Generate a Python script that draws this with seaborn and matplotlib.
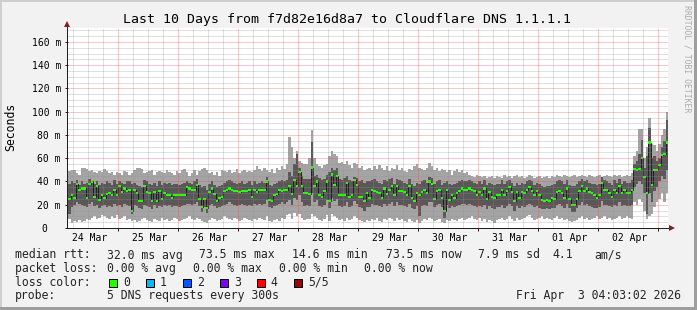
import numpy as np
import matplotlib
matplotlib.use("Agg")
import matplotlib.pyplot as plt
import seaborn as sns
from matplotlib.patches import Rectangle

# ---------------- data: hourly steps from 24 Mar 04:03 to 3 Apr 04:03 (one row = 24 h) -------------
median_rows = [
    [25, 28, 26, 38, 33, 34, 34, 26, 38, 40, 27, 36, 24, 28, 26, 29, 30, 28, 33, 28, 36, 31, 34, 32],
    [33, 14.6, 33, 30, 23, 23, 36, 31, 30, 23, 31, 23, 32, 25, 30, 28, 28, 26, 28, 28, 28, 28, 28, 35],
    [34, 33, 33, 37, 25, 18, 25, 17, 31, 34, 29, 23, 26, 27, 32, 33, 34, 33, 32, 32, 31, 32, 32, 32],
    [33, 27, 33, 31, 33, 33, 33, 40, 24, 23, 28, 29, 33, 32, 33, 33, 36, 29, 41, 36, 48, 36, 30, 30],
    [29, 52, 36, 40, 28, 27, 32, 40, 23, 46, 37, 45, 28, 28, 28, 39, 27, 28, 41, 37, 27, 27, 23, 30],
    [26, 33, 32, 31, 30, 26, 34, 29, 33, 36, 28, 36, 32, 32, 31, 28, 36, 26, 23, 30, 28, 31, 33, 30],
    [40, 38, 25, 32, 33, 26, 15, 33, 24, 28, 26, 30, 32, 34, 33, 33, 34, 33, 32, 28, 31, 28, 34, 25],
    [31, 27, 26, 28, 28, 33, 28, 32, 35, 31, 23, 31, 26, 31, 30, 33, 35, 32, 28, 32, 28, 24, 23, 24],
    [23, 26, 25, 31, 32, 30, 26, 34, 25, 20, 20, 25, 32, 36, 32, 34, 31, 30, 28, 26, 28, 39, 33, 33],
    [30, 27, 33, 30, 36, 30, 33, 30, 30, 33, 51, 50, 51, 60, 44, 30, 73.5, 37, 50, 50, 54, 63, 64, 73.5],
]
# outer smoke (lowest / highest ping)
low_rows = [
    [8, 4, 6, 5, 7, 5, 6, 8, 7, 9, 10, 8, 9, 11, 10, 9, 8, 10, 9, 11, 8, 9, 10, 7],
    [8, 6, 7, 5, 6, 8, 9, 7, 6, 5, 8, 7, 6, 9, 7, 8, 6, 7, 9, 8, 6, 7, 8, 9],
    [10, 8, 7, 9, 8, 6, 5, 4, 7, 9, 8, 6, 7, 8, 10, 9, 8, 7, 9, 8, 6, 7, 9, 8],
    [7, 6, 8, 7, 9, 8, 7, 10, 6, 5, 7, 8, 6, 9, 8, 11, 12, 8, 13, 10, 12, 9, 7, 8],
    [8, 12, 10, 9, 7, 6, 8, 11, 6, 12, 10, 9, 7, 8, 6, 9, 7, 8, 10, 9, 7, 6, 5, 7],
    [6, 8, 7, 9, 6, 5, 8, 7, 9, 8, 6, 9, 7, 8, 6, 5, 8, 6, 5, 7, 4, 6, 8, 7],
    [9, 8, 6, 7, 8, 5, 4, 7, 6, 8, 7, 6, 8, 9, 7, 8, 9, 10, 8, 7, 9, 6, 8, 5],
    [7, 6, 4, 7, 8, 9, 7, 8, 10, 8, 6, 9, 7, 8, 9, 10, 11, 9, 7, 8, 9, 10, 8, 9],
    [8, 7, 9, 10, 8, 9, 7, 8, 6, 5, 6, 7, 9, 10, 8, 9, 7, 8, 9, 10, 8, 9, 10, 8],
    [9, 7, 8, 9, 10, 8, 9, 10, 9, 8, 22, 20, 25, 22, 15, 8, 10, 12, 18, 22, 25, 30, 22, 30],
]
high_rows = [
    [49, 50, 50, 47, 46, 52, 52, 51, 49, 50, 48, 47, 49, 48, 51, 49, 47, 48, 46, 48, 47, 46, 49, 48],
    [46, 47, 50, 52, 52, 51, 47, 48, 49, 50, 46, 48, 49, 48, 47, 50, 48, 47, 46, 49, 47, 50, 51, 48],
    [45, 47, 50, 46, 49, 51, 52, 50, 47, 48, 46, 48, 45, 50, 49, 48, 50, 47, 48, 51, 47, 49, 50, 48],
    [49, 48, 50, 53, 51, 49, 52, 50, 48, 51, 47, 52, 50, 53, 51, 55, 78, 70, 60, 66, 58, 56, 55, 55],
    [60, 84, 60, 55, 53, 52, 54, 55, 62, 66, 64, 62, 56, 57, 55, 58, 54, 52, 56, 55, 52, 53, 50, 51],
    [52, 50, 53, 51, 54, 52, 50, 53, 49, 52, 51, 54, 50, 52, 49, 48, 51, 50, 53, 55, 52, 51, 50, 52],
    [56, 53, 50, 52, 49, 51, 50, 48, 50, 46, 49, 51, 48, 50, 47, 48, 46, 45, 44, 46, 45, 44, 45, 43],
    [44, 45, 43, 45, 44, 43, 46, 44, 45, 43, 45, 46, 44, 45, 43, 44, 46, 45, 43, 44, 45, 43, 44, 45],
    [43, 45, 44, 46, 45, 44, 46, 45, 44, 45, 46, 44, 45, 46, 45, 44, 46, 45, 44, 45, 46, 44, 45, 46],
    [45, 44, 46, 45, 46, 44, 45, 46, 45, 47, 62, 66, 85, 85, 60, 70, 95, 72, 71, 66, 72, 80, 85, 100],
]
# inner smoke (2nd / 4th ping)
inner_low_rows = [
    [12, 18, 20, 22, 21, 20, 19, 18, 21, 22, 19, 20, 17, 19, 20, 18, 19, 18, 21, 19, 20, 18, 21, 20],
    [19, 12, 20, 19, 17, 16, 20, 19, 18, 16, 20, 17, 19, 18, 20, 19, 20, 18, 19, 19, 18, 19, 20, 21],
    [21, 20, 21, 22, 19, 14, 18, 13, 20, 21, 19, 17, 18, 19, 20, 21, 22, 21, 20, 19, 20, 21, 20, 19],
    [20, 19, 21, 20, 21, 20, 21, 24, 18, 17, 19, 20, 21, 22, 21, 22, 24, 20, 26, 24, 28, 22, 19, 20],
    [19, 30, 22, 24, 19, 18, 20, 24, 17, 26, 23, 25, 19, 18, 19, 22, 18, 19, 23, 21, 18, 17, 15, 18],
    [18, 21, 20, 20, 19, 18, 21, 19, 21, 22, 19, 22, 20, 20, 19, 18, 21, 17, 16, 19, 10, 19, 20, 19],
    [22, 22, 18, 20, 21, 18, 9, 20, 17, 19, 18, 19, 20, 21, 21, 20, 21, 20, 19, 18, 19, 18, 20, 16],
    [19, 17, 16, 18, 18, 20, 17, 19, 21, 19, 15, 19, 17, 19, 18, 20, 21, 20, 18, 19, 17, 16, 16, 17],
    [16, 17, 17, 20, 21, 19, 17, 21, 17, 14, 14, 17, 20, 22, 20, 21, 19, 18, 17, 17, 18, 23, 20, 20],
    [19, 18, 20, 19, 22, 19, 20, 19, 19, 20, 35, 38, 40, 38, 30, 12, 30, 22, 32, 35, 40, 45, 42, 50],
]
inner_high_rows = [
    [38, 40, 39, 41, 37, 40, 38, 39, 42, 41, 38, 40, 37, 39, 38, 40, 39, 37, 41, 38, 40, 39, 38, 40],
    [40, 38, 39, 37, 36, 35, 41, 40, 38, 37, 39, 36, 40, 37, 39, 38, 39, 37, 38, 38, 37, 38, 39, 40],
    [39, 38, 40, 42, 37, 35, 36, 33, 38, 40, 37, 35, 36, 37, 39, 40, 41, 40, 39, 38, 39, 40, 38, 39],
    [40, 37, 40, 38, 39, 40, 39, 44, 37, 36, 38, 39, 40, 41, 40, 41, 48, 45, 55, 64, 52, 45, 42, 42],
    [42, 74, 45, 46, 43, 41, 42, 46, 48, 52, 50, 52, 42, 41, 43, 45, 41, 40, 44, 43, 40, 41, 39, 40],
    [40, 41, 42, 40, 39, 38, 41, 40, 42, 43, 38, 42, 41, 40, 39, 38, 42, 38, 36, 39, 38, 40, 41, 39],
    [44, 43, 38, 40, 41, 37, 39, 40, 38, 37, 38, 39, 40, 41, 40, 40, 41, 40, 39, 38, 40, 38, 41, 37],
    [39, 38, 37, 38, 38, 41, 38, 40, 41, 39, 36, 39, 37, 39, 38, 40, 41, 40, 37, 39, 38, 36, 35, 36],
    [36, 37, 38, 40, 41, 40, 38, 41, 37, 36, 36, 38, 40, 42, 40, 41, 39, 38, 38, 37, 38, 44, 41, 40],
    [39, 37, 41, 39, 42, 38, 40, 39, 39, 41, 55, 58, 64, 76, 52, 62, 86, 60, 62, 58, 60, 70, 75, 93],
]

day_labels = ["24 Mar", "25 Mar", "26 Mar", "27 Mar", "28 Mar",
              "29 Mar", "30 Mar", "31 Mar", "01 Apr", "02 Apr"]
y_ticks = [0, 20, 40, 60, 80, 100, 120, 140, 160]
y_labels = ["0", "20 m", "40 m", "60 m", "80 m", "100 m", "120 m", "140 m", "160 m"]
loss_labels = ["0", "1", "2", "3", "4", "5/5"]
loss_colors = ["#26ff00", "#00b8ff", "#0059ff", "#7e00ff", "#ff0000", "#a10000"]
title = "Last 10 Days from f7d82e16d8a7 to Cloudflare DNS 1.1.1.1"
rtt_parts = ["32.0 ms avg", "73.5 ms max", "14.6 ms min", "73.5 ms now", "7.9 ms sd", "4.1", "am/s"]
loss_parts = ["0.00 % avg", "0.00 % max", "0.00 % min", "0.00 % now"]
probe_text = "5 DNS requests every 300s"
stamp = "Fri Apr  3 04:03:02 2026"

flat = lambda rows: np.array([v for r in rows for v in r], dtype=float)
median = flat(median_rows)
p1, p5 = flat(low_rows), flat(high_rows)
p2, p4 = flat(inner_low_rows), flat(inner_high_rows)

# ---------------- style ----------------
sns.set_theme(style="white")
plt.rcParams["font.family"] = ["DejaVu Sans Mono", "DejaVu Sans"]

W, H = 697, 310
BG = "#F2F2F2"
fig = plt.figure(figsize=(W / 100, H / 100), dpi=100, facecolor=BG)


def fx(px):
    return px / W


def fy(py):
    return 1 - py / H


L, R, T, B = 68, 668, 28, 228
ax = fig.add_axes([fx(L), fy(B), (R - L) / W, (B - T) / H])
ax.set_facecolor("white")
for s in ax.spines.values():
    s.set_visible(False)

t0 = 4.05  # hours after 24 Mar 00:00
n = len(median)
xe = t0 + np.arange(n + 1)
ext = lambda a: np.append(a, a[-1])

ax.fill_between(xe, ext(p1), ext(p5), step="post", color="#A4A4A4", lw=0, zorder=1)
ax.fill_between(xe, ext(p2), ext(p4), step="post", color="#585858", lw=0, zorder=2)
sns.lineplot(x=xe, y=ext(median), drawstyle="steps-post", color="#202020",
             linewidth=0.72, ax=ax, estimator=None, errorbar=None, legend=False, zorder=3)
half = 0.9
ax.fill_between(xe, ext(median) - half, ext(median) + half, step="post",
                color=loss_colors[0], lw=0, zorder=4)

ax.set_xlim(t0, t0 + 240)
ax.set_ylim(0, 172)

# grid (drawn over the data like rrdtool)
minor_c = (0.56, 0.56, 0.56, 0.55)
major_c = (0.87, 0.31, 0.31, 0.6)
dash = (0, (1, 1))
for h in range(6, 246, 6):
    if t0 < h < t0 + 240:
        ax.axvline(h, color=major_c if h % 24 == 0 else minor_c, lw=0.72, ls=dash, zorder=5)
for v in range(5, 172, 5):
    ax.axhline(v, color=major_c if v % 20 == 0 else minor_c, lw=0.72, ls=dash, zorder=5)

# ticks
TF = 7.0
ax.set_xticks([12.5 + 24 * k for k in range(len(day_labels))], labels=day_labels)
ax.set_xticks([24 * k for k in range(1, 11)], minor=True)
ax.tick_params(axis="x", which="major", length=0, pad=3.8, labelsize=TF, labelcolor="black", bottom=True)
ax.tick_params(axis="x", which="minor", length=2.2, width=0.72, color="#1F1F1F", bottom=True, direction="out")
ax.set_yticks(y_ticks, labels=["" if l == "0" else l for l in y_labels])
ax.tick_params(axis="y", length=2.2, width=0.72, color="#1F1F1F", pad=2.9, labelsize=TF,
               labelcolor="black", left=True, direction="out")
ax.text(-20.5 / 600, 0, y_labels[0], transform=ax.get_yaxis_transform(), ha="right",
        va="center_baseline", fontsize=TF, color="black")

# axis lines with arrows
ax.plot([-1 / 600, -1 / 600], [0, 1 + 5 / 200], transform=ax.transAxes, color="#1F1F1F",
        lw=0.72, clip_on=False, zorder=6)
ax.plot([-1 / 600, 1 + 3 / 600], [0, 0], transform=ax.transAxes, color="#1F1F1F",
        lw=0.72, clip_on=False, zorder=6)
ax.plot([-1 / 600], [1 + 4.5 / 200], marker="^", ms=4.5, mew=0, color="#801F1F",
        transform=ax.transAxes, clip_on=False, zorder=7)
ax.plot([1 + 3.5 / 600], [0], marker=">", ms=4.5, mew=0, color="#801F1F",
        transform=ax.transAxes, clip_on=False, zorder=7)

# titles / labels
fig.text(fx(347), fy(23.5), title, ha="center", va="baseline", fontsize=9.5, color="black")
fig.text(fx(10.5), fy(127), "Seconds", rotation=90, ha="center", va="center", fontsize=8.3, color="black")
fig.text(fx(687.5), fy(5), "RRDTOOL / TOBI OETIKER", rotation=270, ha="center", va="top",
         fontsize=5.9, color="#ABABAB")

# legend block
LF = 8.3
rows_y = [258.5, 272, 285.8, 299.3]
fig.text(fx(15.3), fy(rows_y[0]), "median rtt:", fontsize=LF, va="baseline")
for xp, s in zip([106.6, 199.3, 291.8, 385.5, 477.6, 552.6, 594.3], rtt_parts):
    fig.text(fx(xp), fy(rows_y[0]), s, fontsize=LF, va="baseline")
fig.text(fx(15.3), fy(rows_y[1]), "packet loss:", fontsize=LF, va="baseline")
for xp, s in zip([106.6, 193.3, 278.6, 364.3], loss_parts):
    fig.text(fx(xp), fy(rows_y[1]), s, fontsize=LF, va="baseline")
fig.text(fx(15.3), fy(rows_y[2]), "loss color:", fontsize=LF, va="baseline")
for k, (lab, col) in enumerate(zip(loss_labels, loss_colors)):
    bx = 108.5 + 37 * k
    fig.add_artist(Rectangle((fx(bx), fy(286.5)), 8 / W, 8 / H, transform=fig.transFigure,
                             facecolor=col, edgecolor="black", lw=0.72))
    fig.text(fx(bx + 14.3), fy(rows_y[2]), lab, fontsize=LF, va="baseline")
fig.text(fx(15.3), fy(rows_y[3]), "probe:", fontsize=LF, va="baseline")
fig.text(fx(106.6), fy(rows_y[3]), probe_text, fontsize=LF, va="baseline")
fig.text(fx(680.5), fy(rows_y[3]), stamp, fontsize=LF, va="baseline", ha="right")


# 3-D frame
def px_rect(x, y, w, h, color):
    fig.add_artist(Rectangle((fx(x), fy(y + h)), w / W, h / H, transform=fig.transFigure,
                             facecolor=color, edgecolor="none", lw=0))


px_rect(0, 0, W, 2, "#CFCFCF")
px_rect(0, 0, 2, H, "#CFCFCF")
px_rect(0, H - 3, W, 3, "#9E9E9E")
px_rect(W - 3, 0, 3, H, "#9E9E9E")

fig.savefig("out.png", dpi=100, facecolor=BG)
